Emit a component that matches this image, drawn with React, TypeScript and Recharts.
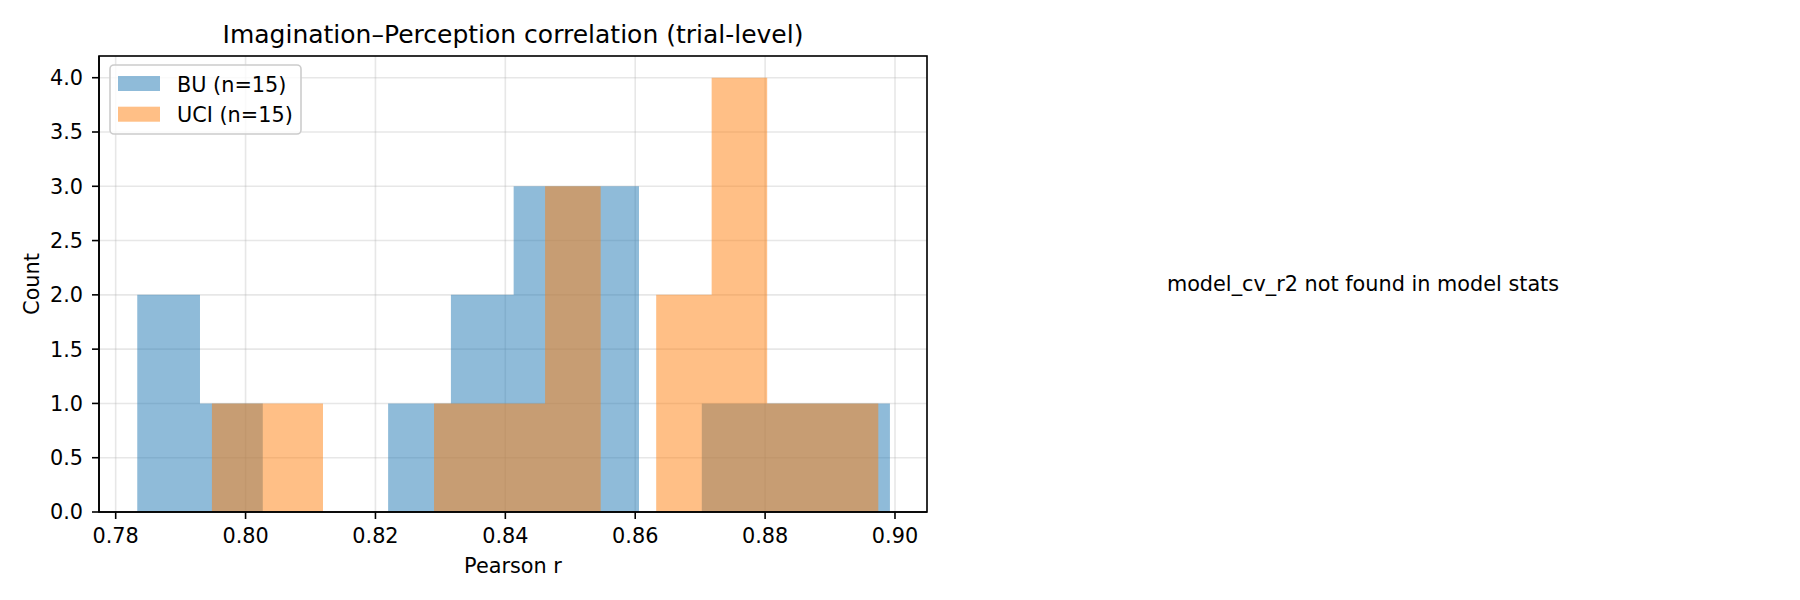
import {
  ComposedChart,
  Area,
  XAxis,
  YAxis,
  CartesianGrid,
} from "recharts";

// bin edges + counts (12 bins per group)
const BU_EDGES = [
  0.78332, 0.79298, 0.80265, 0.81229, 0.82195, 0.83162, 0.84128, 0.85092,
  0.86058, 0.87025, 0.87991, 0.88957, 0.89922,
];
const BU_COUNTS = [2, 1, 0, 0, 1, 2, 3, 3, 0, 1, 1, 1];

const UCI_EDGES = [
  0.79482, 0.80337, 0.81192, 0.82046, 0.82902, 0.83757, 0.84612, 0.85468,
  0.86323, 0.87177, 0.88032, 0.88888, 0.89743,
];
const UCI_COUNTS = [1, 1, 0, 0, 1, 1, 3, 0, 2, 4, 1, 1];

const X_TICKS = [0.78, 0.8, 0.82, 0.84, 0.86, 0.88, 0.9];
const Y_TICKS = [0, 0.5, 1, 1.5, 2, 2.5, 3, 3.5, 4];

const FONT = "DejaVu Sans, sans-serif";
const BLUE = "#1f77b4";
const ORANGE = "#ff7f0e";

// plot box (matches the chart margins below)
const PLOT = { left: 99, top: 56, width: 828, height: 456 };

function countAt(edges: number[], counts: number[], x: number) {
  for (let i = 0; i < counts.length; i++) {
    if (x >= edges[i] && x < edges[i + 1]) return counts[i];
  }
  return 0;
}

// merged step table so both areas share one x axis
const rows = Array.from(new Set([...BU_EDGES, ...UCI_EDGES]))
  .sort((a, b) => a - b)
  .map((x) => ({
    x,
    bu: countAt(BU_EDGES, BU_COUNTS, x),
    uci: countAt(UCI_EDGES, UCI_COUNTS, x),
  }));

const tickStyle = { fill: "#000", fontSize: 20.8, fontFamily: FONT };
const spine = { stroke: "#000", strokeWidth: 1.6 };

export default function App() {
  return (
    <div
      style={{
        position: "absolute",
        left: 0,
        top: 0,
        width: 1800,
        height: 600,
        background: "#fff",
      }}
    >
      <ComposedChart
        width={1800}
        height={600}
        data={rows}
        margin={{
          top: PLOT.top,
          right: 1800 - PLOT.left - PLOT.width,
          bottom: 600 - PLOT.top - PLOT.height - 40,
          left: 0,
        }}
      >
        <XAxis
          dataKey="x"
          type="number"
          domain={[0.77743, 0.90493]}
          allowDataOverflow
          ticks={X_TICKS}
          tickFormatter={(v: number) => v.toFixed(2)}
          tick={tickStyle}
          tickSize={7}
          tickMargin={9}
          height={40}
          axisLine={spine}
          tickLine={spine}
        />
        <YAxis
          type="number"
          domain={[0, 4.2]}
          allowDataOverflow
          ticks={Y_TICKS}
          tickFormatter={(v: number) => v.toFixed(1)}
          tick={tickStyle}
          tickSize={7}
          tickMargin={9}
          width={PLOT.left}
          axisLine={spine}
          tickLine={spine}
        />
        <Area
          dataKey="bu"
          type="stepAfter"
          stroke="none"
          fill={BLUE}
          fillOpacity={0.5}
          dot={false}
          activeDot={false}
          isAnimationActive={false}
        />
        <Area
          dataKey="uci"
          type="stepAfter"
          stroke="none"
          fill={ORANGE}
          fillOpacity={0.5}
          dot={false}
          activeDot={false}
          isAnimationActive={false}
        />
        <CartesianGrid
          stroke="#b0b0b0"
          strokeOpacity={0.3}
          strokeWidth={1.6}
        />
      </ComposedChart>

      {/* frame, titles, labels, legend, message for the empty right panel */}
      <svg
        width={1800}
        height={600}
        style={{ position: "absolute", left: 0, top: 0, pointerEvents: "none" }}
        fontFamily={FONT}
      >
        <rect
          x={PLOT.left}
          y={PLOT.top}
          width={PLOT.width}
          height={PLOT.height}
          fill="none"
          stroke="#000"
          strokeWidth={1.6}
        />
        <text x={513} y={43} fontSize={25} textAnchor="middle" fill="#000">
          Imagination–Perception correlation (trial-level)
        </text>
        <text x={513} y={572.5} fontSize={20.8} textAnchor="middle" fill="#000">
          Pearson r
        </text>
        <text
          x={39}
          y={284}
          fontSize={20.8}
          textAnchor="middle"
          fill="#000"
          transform="rotate(-90, 39, 284)"
        >
          Count
        </text>

        <rect
          x={110}
          y={65}
          width={191}
          height={69}
          rx={4}
          fill="#fff"
          fillOpacity={0.8}
          stroke="#cccccc"
          strokeWidth={1.6}
        />
        <rect x={118} y={76} width={42} height={15} fill={BLUE} fillOpacity={0.5} />
        <text x={177} y={91.7} fontSize={20.8} fill="#000">
          BU (n=15)
        </text>
        <rect x={118} y={106.7} width={42} height={15} fill={ORANGE} fillOpacity={0.5} />
        <text x={177} y={121.7} fontSize={20.8} fill="#000">
          UCI (n=15)
        </text>

        <text x={1363} y={291} fontSize={20.8} textAnchor="middle" fill="#000">
          model_cv_r2 not found in model stats
        </text>
      </svg>
    </div>
  );
}
